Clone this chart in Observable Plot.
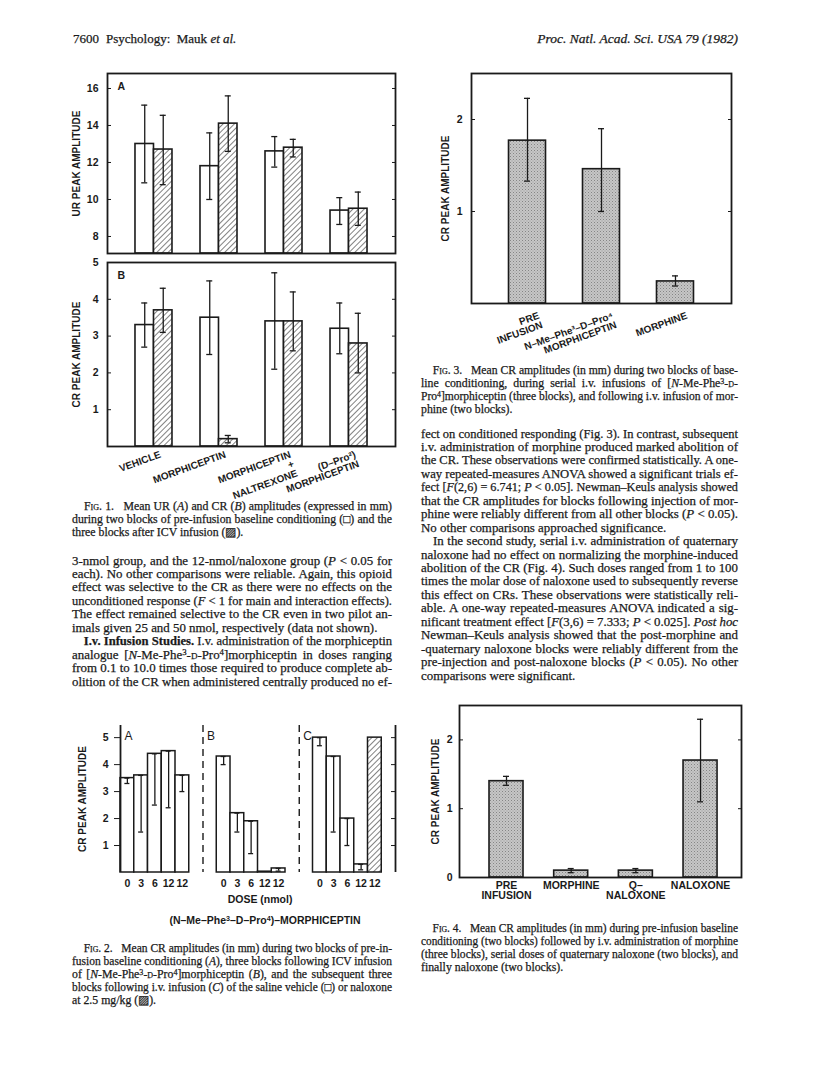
<!DOCTYPE html>
<html>
<head>
<meta charset="utf-8">
<script src="https://cdn.jsdelivr.net/npm/d3@7"></script>
<script src="https://cdn.jsdelivr.net/npm/@observablehq/plot@0.6"></script>
<style>
  html, body { margin: 0; padding: 0; background: #fff; }
  #page { position: relative; width: 816px; height: 1072px; overflow: hidden; background: #fff; color: #1a1a1a;
          font-family: "Liberation Serif", "Times New Roman", serif; }
  .tl { position: absolute; white-space: nowrap; line-height: 1; -webkit-text-stroke: 0.25px #1a1a1a; }
  .sans { font-family: "Liberation Sans", Arial, sans-serif; font-weight: bold; -webkit-text-stroke: 0; }
  .sc { font-variant: small-caps; }
  sup { font-size: 0.68em; vertical-align: 0; position: relative; top: -0.45em; line-height: 0; }
  .ind { display: inline-block; width: 12px; }
</style>
</head>
<body>
<svg width="0" height="0" style="position:absolute;left:0;top:0">
  <defs>
    <pattern id="hatch" patternUnits="userSpaceOnUse" width="4" height="4" patternTransform="rotate(45)">
      <rect width="4" height="4" fill="#ffffff"></rect>
      <line x1="0" y1="0" x2="0" y2="4" stroke="#1a1a1a" stroke-width="1.1"></line>
    </pattern>
    <pattern id="stipple" patternUnits="userSpaceOnUse" width="3" height="3">
      <rect width="3" height="3" fill="#c6c6c6"></rect>
      <rect x="0" y="0" width="1" height="1" fill="#858585"></rect>
      <rect x="1.5" y="1.5" width="1" height="1" fill="#9c9c9c"></rect>
    </pattern>
  </defs>
</svg>
<div id="page"></div>
<script>
// ================= DATA =================
// Fig. 1 (A: UR, B: CR) — open = pre-infusion, hatched = after ICV infusion
const fig1Groups = ["VEHICLE", "MORPHICEPTIN", "MORPHICEPTIN\n+\nNALTREXONE", "(D–Pro²)\nMORPHICEPTIN"];
const fig1UR_pre    = [13.0, 11.8, 12.6, 9.4];
const fig1UR_preLo  = [10.9, 10.0, 11.75, 8.65];
const fig1UR_preHi  = [15.1, 13.6, 13.4, 10.1];
const fig1UR_post   = [12.7, 14.1, 12.8, 9.5];
const fig1UR_postLo = [10.8, 12.6, 12.3, 8.6];
const fig1UR_postHi = [14.55, 15.6, 13.25, 10.4];
const fig1UR_ticks  = [8, 10, 12, 14, 16];
const fig1UR_domain = [7.08, 16.81];

const fig1CR_pre    = [3.3, 3.5, 3.4, 3.2];
const fig1CR_preLo  = [2.7, 2.5, 2.1, 2.52];
const fig1CR_preHi  = [3.9, 4.5, 4.72, 3.9];
const fig1CR_post   = [3.7, 0.2, 3.4, 2.8];
const fig1CR_postLo = [3.1, 0.1, 2.6, 2.0];
const fig1CR_postHi = [4.3, 0.3, 4.2, 3.62];
const fig1CR_ticks  = [1, 2, 3, 4, 5];
const fig1CR_domain = [0, 5];

// Fig. 2
const fig2Panels = ["A", "B", "C"];
const fig2Doses  = ["0", "3", "6", "12", "12"];
const fig2A    = [3.5, 3.6, 4.4, 4.5, 3.6];
const fig2A_lo = [3.3, 1.5, 2.5, 2.4, 3.0];
const fig2B    = [4.3, 2.2, 1.9, 0.03, 0.15];
const fig2B_lo = [4.0, 1.5, 0.7, null, 0.05];
const fig2C    = [5.0, 4.3, 2.0, 0.3, 5.0];
const fig2C_lo = [4.7, 1.5, 1.0, 0.1, null];
const fig2C_treat = ["vehicle", "vehicle", "vehicle", "vehicle", "naloxone"];
const fig2Ticks  = [1, 2, 3, 4, 5];
const fig2Domain = [0, 5.45];

// Fig. 3
const fig3Cats  = ["PRE\nINFUSION", "N–Me–Phe³–D–Pro⁴\nMORPHICEPTIN", "MORPHINE"];
const fig3Vals  = [1.77, 1.46, 0.24];
const fig3Lo    = [1.33, 1.0, 0.19];
const fig3Hi    = [2.23, 1.9, 0.3];
const fig3Ticks = [1, 2];
const fig3Domain = [0, 2.5];

// Fig. 4
const fig4Cats  = ["PRE\nINFUSION", "MORPHINE", "Q–\nNALOXONE", "NALOXONE"];
const fig4Vals  = [1.4, 0.1, 0.1, 1.7];
const fig4Lo    = [1.34, 0.07, 0.07, 1.1];
const fig4Hi    = [1.47, 0.13, 0.13, 2.3];
const fig4Ticks = [0, 1, 2];
const fig4Domain = [0, 2.5];

// ================= HELPERS =================
const page = document.getElementById("page");
const INK = "#1a1a1a";
const intFmt = d => `${d}`;
const chartStyle = {
  fontFamily: '"Liberation Sans", Arial, sans-serif', fontSize: "10.5px", fontWeight: "bold",
  color: INK, background: "transparent", overflow: "visible"
};
function place(node, left, top) {
  node.style.position = "absolute";
  node.style.left = left + "px";
  node.style.top = top + "px";
  page.appendChild(node);
}
function textLine(html, x, yc, w, opts = {}) {
  const {size = 12.5, align = "justify", cls = ""} = opts;
  const d = document.createElement("div");
  d.className = "tl " + cls;
  d.style.fontSize = size + "px";
  d.style.left = x + "px";
  d.style.top = (yc - size * 0.58) + "px";
  d.innerHTML = html;
  page.appendChild(d);
  const nat = d.getBoundingClientRect().width;
  if (nat > w) {
    d.style.transformOrigin = "0 0";
    d.style.transform = `scaleX(${w / nat})`;
  } else if (align === "justify") {
    const spaces = (d.textContent.match(/[ \u00a0]/g) || []).length;
    if (spaces) d.style.wordSpacing = ((w - nat) / spaces) + "px";
  } else if (align === "right") {
    d.style.left = (x + w - nat) + "px";
  } else if (align === "center") {
    d.style.left = (x + (w - nat) / 2) + "px";
  }
}
function block(lines, x, y0, step, w, size) {
  lines.forEach((ln, i) => {
    const last = ln.endsWith("¶");
    textLine(last ? ln.slice(0, -1) : ln, x, y0 + i * step, w, {size, align: last ? "left" : "justify"});
  });
}
function yTitle(label, dx) {
  return Plot.text([label], {text: d => d, frameAnchor: "left", rotate: -90, dx, textAnchor: "middle",
    lineAnchor: "middle", fontSize: 10, fontWeight: "bold", fill: INK});
}

// ================= FIG. 1 =================
function fig1Panel(o) {
  const W = 288, mL = 50, mR = 10, mT = 10;
  const po = 0.215;
  const bw = W / (fig1Groups.length + 2 * po);
  const barW = 18.5, capW = 6;
  const rows = fig1Groups.map((g, i) => ({g, pre: o.pre[i], preLo: o.preLo[i], preHi: o.preHi[i],
    post: o.post[i], postLo: o.postLo[i], postHi: o.postHi[i]}));
  const base = o.domain[0];
  const cap = (y, side) => Plot.tickY(rows, {x: "g", y, stroke: INK, strokeWidth: 1.3,
    insetLeft: side < 0 ? bw / 2 - barW / 2 - capW / 2 : bw / 2 + barW / 2 - capW / 2,
    insetRight: side < 0 ? bw / 2 + barW / 2 - capW / 2 : bw / 2 - barW / 2 - capW / 2});
  const marks = [
    Plot.barY(rows, {x: "g", y1: () => base, y2: "pre", fill: "#fff", stroke: INK, strokeWidth: 1.6,
      insetLeft: bw / 2 - barW, insetRight: bw / 2}),
    Plot.barY(rows, {x: "g", y1: () => base, y2: "post", fill: "url(#hatch)", stroke: INK, strokeWidth: 1.6,
      insetLeft: bw / 2, insetRight: bw / 2 - barW}),
    Plot.ruleX(rows, {x: "g", y1: "preLo", y2: "preHi", dx: -barW / 2, stroke: INK, strokeWidth: 1.3}),
    Plot.ruleX(rows, {x: "g", y1: "postLo", y2: "postHi", dx: barW / 2, stroke: INK, strokeWidth: 1.3}),
    cap("preLo", -1), cap("preHi", -1), cap("postLo", 1), cap("postHi", 1),
    Plot.frame({stroke: INK, strokeWidth: 1.8}),
    Plot.axisY(o.ticks, {anchor: "left", tickSize: -4, tickPadding: 13, tickFormat: intFmt, label: null, fontSize: 10.5}),
    Plot.axisY(o.ticks, {anchor: "right", tickSize: -4, tickFormat: () => "", label: null}),
    Plot.text([o.letter], {text: d => d, frameAnchor: "top-left", dx: 10, dy: 9, textAnchor: "start", fontSize: 10.5, fill: INK}),
    yTitle(o.yLabel, -31)
  ];
  if (o.showX) {
    marks.push(Plot.text(fig1Groups, {x: d => d, text: d => d, frameAnchor: "bottom", rotate: -20,
      textAnchor: "end", lineAnchor: "top", dx: 5, dy: 4, fontSize: 10, fill: INK}));
  }
  const svg = Plot.plot({
    width: mL + W + mR, height: mT + o.H + o.mB,
    marginLeft: mL, marginRight: mR, marginTop: mT, marginBottom: o.mB,
    x: {type: "band", domain: fig1Groups, paddingInner: 0, paddingOuter: po, round: false, axis: null},
    y: {domain: o.domain},
    style: chartStyle,
    marks
  });
  place(svg, o.left, o.top);
}
fig1Panel({pre: fig1UR_pre, preLo: fig1UR_preLo, preHi: fig1UR_preHi, post: fig1UR_post, postLo: fig1UR_postLo,
  postHi: fig1UR_postHi, ticks: fig1UR_ticks, domain: fig1UR_domain, letter: "A", yLabel: "UR PEAK AMPLITUDE",
  showX: false, left: 57, top: 63, H: 180, mB: 2});
fig1Panel({pre: fig1CR_pre, preLo: fig1CR_preLo, preHi: fig1CR_preHi, post: fig1CR_post, postLo: fig1CR_postLo,
  postHi: fig1CR_postHi, ticks: fig1CR_ticks, domain: fig1CR_domain, letter: "B", yLabel: "CR PEAK AMPLITUDE",
  showX: true, left: 57, top: 252, H: 184, mB: 50});

// ================= FIG. 2 =================
(function () {
  const vals = {A: fig2A, B: fig2B, C: fig2C};
  const los = {A: fig2A_lo, B: fig2B_lo, C: fig2C_lo};
  const rows = fig2Panels.flatMap(p => fig2Doses.map((d, i) => ({
    key: p + i, panel: p, dose: d, v: vals[p][i], lo: los[p][i],
    hatched: p === "C" && fig2C_treat[i] === "naloxone"})));
  const slots = [];
  fig2Panels.forEach((p, k) => {
    if (k) slots.push("gap" + k + "a", "gap" + k + "b");
    fig2Doses.forEach((d, i) => slots.push(p + i));
  });
  slots.push("end");
  const labelKey = {A: "A0", B: "gap1b", C: "gap2b"};
  const doseOf = new Map(rows.map(r => [r.key, r.dose]));
  const W = 275, H = 147, mL = 60, mR = 15, mT = 10, mB = 28;
  const bw = W / slots.length, capW = 5;
  const errRows = rows.filter(r => r.lo != null);
  const capOpts = {stroke: INK, strokeWidth: 1.3, insetLeft: (bw - capW) / 2, insetRight: (bw - capW) / 2};
  const svg = Plot.plot({
    width: mL + W + mR, height: mT + H + mB,
    marginLeft: mL, marginRight: mR, marginTop: mT, marginBottom: mB,
    x: {type: "band", domain: slots, padding: 0, round: false},
    y: {domain: fig2Domain},
    style: chartStyle,
    marks: [
      Plot.barY(rows.filter(r => !r.hatched), {x: "key", y: "v", fill: "#fff", stroke: INK, strokeWidth: 1.5}),
      Plot.barY(rows.filter(r => r.hatched), {x: "key", y: "v", fill: "url(#hatch)", stroke: INK, strokeWidth: 1.5}),
      Plot.ruleX(errRows, {x: "key", y1: "lo", y2: "v", stroke: INK, strokeWidth: 1.3}),
      Plot.tickY(errRows, {x: "key", y: "lo", ...capOpts}),
      Plot.tickY(errRows, {x: "key", y: "v", ...capOpts}),
      Plot.ruleX(["gap1b", "gap2b"], {x: d => d, dx: -bw / 2, stroke: INK, strokeWidth: 1.4, strokeDasharray: "7,5"}),
      Plot.ruleX(["A0"], {x: d => d, dx: -bw / 2, stroke: INK, strokeWidth: 1.8}),
      Plot.ruleX(["end"], {x: d => d, dx: bw / 2, stroke: INK, strokeWidth: 1.8}),
      Plot.axisY(fig2Ticks, {anchor: "left", tickSize: 6, tickPadding: 6, tickFormat: intFmt, label: null, fontSize: 10.5}),
      Plot.axisY(fig2Ticks, {anchor: "right", tickSize: -5, tickFormat: () => "", label: null}),
      Plot.axisX(rows.map(r => r.key), {anchor: "bottom", tickSize: 0, tickPadding: 7, tickFormat: k => doseOf.get(k), label: null, fontSize: 10.5}),
      Plot.text(fig2Panels, {x: p => labelKey[p], text: d => d, frameAnchor: "top", dx: -bw / 2 + 4, dy: 6,
        textAnchor: "start", fontWeight: "normal", fontSize: 12, fill: INK}),
      yTitle("CR PEAK AMPLITUDE", -38)
    ]
  });
  place(svg, 60, 715);
})();

// ================= FIG. 3 =================
(function () {
  const rows = fig3Cats.map((c, i) => ({c, v: fig3Vals[i], lo: fig3Lo[i], hi: fig3Hi[i]}));
  const W = 260, H = 230, mL = 60, mR = 10, mT = 10, mB = 60;
  const po = 0.257;
  const bw = W / (fig3Cats.length + 2 * po), barW = 37, capW = 6;
  const capOpts = {stroke: INK, strokeWidth: 1.3, insetLeft: (bw - capW) / 2, insetRight: (bw - capW) / 2};
  const svg = Plot.plot({
    width: mL + W + mR, height: mT + H + mB,
    marginLeft: mL, marginRight: mR, marginTop: mT, marginBottom: mB,
    x: {type: "band", domain: fig3Cats, paddingInner: 0, paddingOuter: po, round: false, axis: null},
    y: {domain: fig3Domain},
    style: chartStyle,
    marks: [
      Plot.barY(rows, {x: "c", y: "v", fill: "url(#stipple)", stroke: INK, strokeWidth: 1.6,
        insetLeft: (bw - barW) / 2, insetRight: (bw - barW) / 2}),
      Plot.ruleX(rows, {x: "c", y1: "lo", y2: "hi", stroke: INK, strokeWidth: 1.3}),
      Plot.tickY(rows, {x: "c", y: "lo", ...capOpts}),
      Plot.tickY(rows, {x: "c", y: "hi", ...capOpts}),
      Plot.frame({stroke: INK, strokeWidth: 1.8}),
      Plot.axisY(fig3Ticks, {anchor: "left", tickSize: -4, tickPadding: 13, tickFormat: intFmt, label: null, fontSize: 10.5}),
      Plot.axisY(fig3Ticks, {anchor: "right", tickSize: -4, tickFormat: () => "", label: null}),
      Plot.text(fig3Cats, {x: d => d, text: d => d, frameAnchor: "bottom", rotate: -20,
        textAnchor: "end", lineAnchor: "top", dx: 10, dy: 8, fontSize: 10, fill: INK}),
      yTitle("CR PEAK AMPLITUDE", -26)
    ]
  });
  place(svg, 411, 63);
})();

// ================= FIG. 4 =================
(function () {
  const rows = fig4Cats.map((c, i) => ({c, v: fig4Vals[i], lo: fig4Lo[i], hi: fig4Hi[i]}));
  const W = 282, H = 172, mL = 50, mR = 10, mT = 10, mB = 40;
  const po = 0.18, align = 0.63;
  const bw = W / (fig4Cats.length + 2 * po), barW = 34, capW = 6;
  const capOpts = {stroke: INK, strokeWidth: 1.3, insetLeft: (bw - capW) / 2, insetRight: (bw - capW) / 2};
  const svg = Plot.plot({
    width: mL + W + mR, height: mT + H + mB,
    marginLeft: mL, marginRight: mR, marginTop: mT, marginBottom: mB,
    x: {type: "band", domain: fig4Cats, paddingInner: 0, paddingOuter: po, align, round: false},
    y: {domain: fig4Domain},
    style: chartStyle,
    marks: [
      Plot.barY(rows, {x: "c", y: "v", fill: "url(#stipple)", stroke: INK, strokeWidth: 1.6,
        insetLeft: (bw - barW) / 2, insetRight: (bw - barW) / 2}),
      Plot.ruleX(rows, {x: "c", y1: "lo", y2: "hi", stroke: INK, strokeWidth: 1.3}),
      Plot.tickY(rows, {x: "c", y: "lo", ...capOpts}),
      Plot.tickY(rows, {x: "c", y: "hi", ...capOpts}),
      Plot.frame({stroke: INK, strokeWidth: 1.8}),
      Plot.axisY(fig4Ticks, {anchor: "left", tickSize: -4, tickPadding: 11, tickFormat: intFmt, label: null, fontSize: 10.5}),
      Plot.axisY(fig4Ticks, {anchor: "right", tickSize: -4, tickFormat: () => "", label: null}),
      Plot.axisX(fig4Cats, {anchor: "bottom", tickSize: 0, tickPadding: 4, label: null, fontSize: 10.5}),
      yTitle("CR PEAK AMPLITUDE", -24)
    ]
  });
  place(svg, 409, 695);
})();

// ================= TEXT =================
const LX = 72, LW = 320, RX = 421, RW = 317;
const SC_D = '<span class="sc">d</span>';
const IND = '<span class="ind"></span>';
const BODY = 12.9, CAP = 11.8;

// running head
textLine("7600", 73, 40, 40, {size: 13, align: "left"});
textLine("Psychology:&nbsp; Mauk <i>et al.</i>", 106, 40, 200, {size: 13, align: "left"});
textLine("<i>Proc. Natl. Acad. Sci. USA 79 (1982)</i>", 500, 40, RX + RW - 500, {size: 13.5, align: "right"});

// Fig. 2 axis titles below the chart
textLine("DOSE (nmol)", 160, 900, 200, {size: 10.5, align: "center", cls: "sans"});
textLine("(N–Me–Phe<sup>3</sup>–D–Pro<sup>4</sup>)–MORPHICEPTIN", 150, 921, 230, {size: 10.5, align: "center", cls: "sans"});

block([
  IND + '<span class="sc">Fig.</span> 1.&nbsp;&nbsp; Mean UR (<i>A</i>) and CR (<i>B</i>) amplitudes (expressed in mm)',
  "during two blocks of pre-infusion baseline conditioning (□) and the",
  "three blocks after ICV infusion (▨).¶"
], LX, 508, 13, LW, CAP);

block([
  "3-nmol group, and the 12-nmol/naloxone group (<i>P</i> &lt; 0.05 for",
  "each). No other comparisons were reliable. Again, this opioid",
  "effect was selective to the CR as there were no effects on the",
  "unconditioned response (<i>F</i> &lt; 1 for main and interaction effects).",
  "The effect remained selective to the CR even in two pilot an-",
  "imals given 25 and 50 nmol, respectively (data not shown).¶",
  IND + "<b>I.v. Infusion Studies.</b> I.v. administration of the morphiceptin",
  "analogue [<i>N</i>-Me-Phe<sup>3</sup>-" + SC_D + "-Pro<sup>4</sup>]morphiceptin in doses ranging",
  "from 0.1 to 10.0 times those required to produce complete ab-",
  "olition of the CR when administered centrally produced no ef-"
], LX, 562, 13.45, LW, BODY);

block([
  IND + '<span class="sc">Fig.</span> 2.&nbsp;&nbsp; Mean CR amplitudes (in mm) during two blocks of pre-in-',
  "fusion baseline conditioning (<i>A</i>), three blocks following ICV infusion",
  "of [<i>N</i>-Me-Phe<sup>3</sup>-" + SC_D + "-Pro<sup>4</sup>]morphiceptin (<i>B</i>), and the subsequent three",
  "blocks following i.v. infusion (<i>C</i>) of the saline vehicle (□) or naloxone",
  "at 2.5 mg/kg (▨).¶"
], LX, 950, 13, LW, CAP);

block([
  IND + '<span class="sc">Fig.</span> 3.&nbsp;&nbsp; Mean CR amplitudes (in mm) during two blocks of base-',
  "line conditioning, during serial i.v. infusions of [<i>N</i>-Me-Phe<sup>3</sup>-" + SC_D + "-",
  "Pro<sup>4</sup>]morphiceptin (three blocks), and following i.v. infusion of mor-",
  "phine (two blocks).¶"
], RX, 372, 13, RW, CAP);

block([
  "fect on conditioned responding (Fig. 3). In contrast, subsequent",
  "i.v. administration of morphine produced marked abolition of",
  "the CR. These observations were confirmed statistically. A one-",
  "way repeated-measures ANOVA showed a significant trials ef-",
  "fect [<i>F</i>(2,6) = 6.741; <i>P</i> &lt; 0.05]. Newman–Keuls analysis showed",
  "that the CR amplitudes for blocks following injection of mor-",
  "phine were reliably different from all other blocks (<i>P</i> &lt; 0.05).",
  "No other comparisons approached significance.¶",
  IND + "In the second study, serial i.v. administration of quaternary",
  "naloxone had no effect on normalizing the morphine-induced",
  "abolition of the CR (Fig. 4). Such doses ranged from 1 to 100",
  "times the molar dose of naloxone used to subsequently reverse",
  "this effect on CRs. These observations were statistically reli-",
  "able. A one-way repeated-measures ANOVA indicated a sig-",
  "nificant treatment effect [<i>F</i>(3,6) = 7.333; <i>P</i> &lt; 0.025]. <i>Post hoc</i>",
  "Newman–Keuls analysis showed that the post-morphine and",
  "-quaternary naloxone blocks were reliably different from the",
  "pre-injection and post-naloxone blocks (<i>P</i> &lt; 0.05). No other",
  "comparisons were significant.¶"
], RX, 435, 13.45, RW, BODY);

block([
  IND + '<span class="sc">Fig.</span> 4.&nbsp;&nbsp; Mean CR amplitudes (in mm) during pre-infusion baseline',
  "conditioning (two blocks) followed by i.v. administration of morphine",
  "(three blocks), serial doses of quaternary naloxone (two blocks), and",
  "finally naloxone (two blocks).¶"
], RX, 930, 13, RW, CAP);
</script>
</body>
</html>
